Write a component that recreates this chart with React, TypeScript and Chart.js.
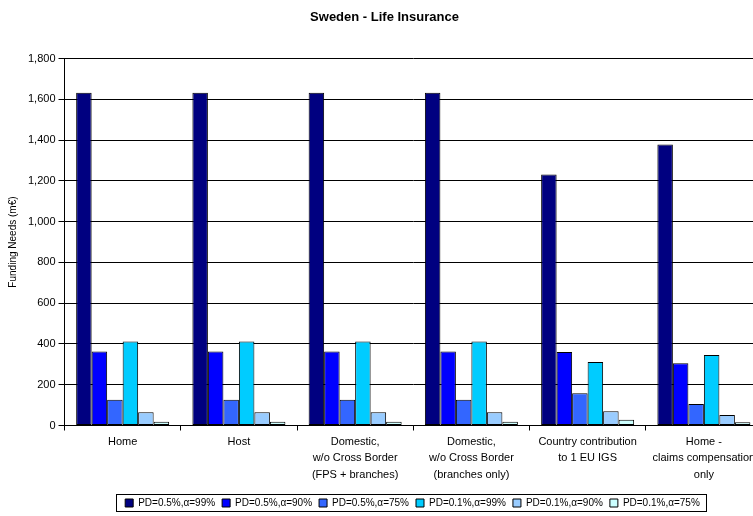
import React, { useEffect, useRef } from "react";
import { Chart, registerables } from "chart.js";

Chart.register(...registerables);

const TITLE = "Sweden - Life Insurance";
const Y_TITLE = "Funding Needs (m€)";
const CATEGORIES: string[][] = [
  ["Home"],
  ["Host"],
  ["Domestic,", "w/o Cross Border", "(FPS + branches)"],
  ["Domestic,", "w/o Cross Border", "(branches only)"],
  ["Country contribution", "to 1 EU IGS"],
  ["Home -", "claims compensation", "only"],
];
const SERIES_NAMES = [
  "PD=0.5%,α=99%",
  "PD=0.5%,α=90%",
  "PD=0.5%,α=75%",
  "PD=0.1%,α=99%",
  "PD=0.1%,α=90%",
  "PD=0.1%,α=75%",
];
const PD05_A99 = [1633, 1633, 1633, 1633, 1232, 1378];
const PD05_A90 = [363, 363, 363, 363, 361, 305];
const PD05_A75 = [126, 126, 126, 126, 158, 106];
const PD01_A99 = [412, 412, 412, 412, 312, 346];
const PD01_A90 = [65, 65, 65, 65, 70, 52];
const PD01_A75 = [19, 19, 19, 19, 28, 16];
const COLORS = ["#000080", "#0000FF", "#3366FF", "#00CCFF", "#99CCFF", "#CCFFFF"];
const Y_MAX = 1800;
const Y_STEP = 200;

const FONT = "'Liberation Sans', Arial, sans-serif";
const LEGEND_SHIFT_X = 28;
const LEGEND_SHIFT_Y = 5;

const legendPlugin = {
  id: "legendShiftBorder",
  beforeDraw(chart: any) {
    const lg = chart.legend;
    if (lg && !lg._shifted) {
      lg.left += LEGEND_SHIFT_X;
      lg.right += LEGEND_SHIFT_X;
      lg.top += LEGEND_SHIFT_Y;
      lg.bottom += LEGEND_SHIFT_Y;
      lg._shifted = true;
    }
  },
  afterDraw(chart: any) {
    const lg = chart.legend;
    if (!lg || !lg.lineWidths) return;
    const pad = lg.options.labels.padding;
    const lw = lg.lineWidths[0];
    const x0 = (lg.left + pad + lg.right - lw) / 2;
    const fs = lg.options.labels.font.size;
    const cy = lg.top + pad + fs / 2;
    const ctx = chart.ctx;
    ctx.save();
    ctx.strokeStyle = "#000";
    ctx.lineWidth = 1;
    const l = Math.round(x0 - 9) + 0.5;
    const r = Math.round(x0 + lw - pad + 6) + 0.5;
    const t = Math.round(cy - 9) + 0.5;
    const b = Math.round(cy + 8) + 0.5;
    ctx.strokeRect(l, t, r - l, b - t);
    ctx.restore();
  },
};

export default function App() {
  const ref = useRef<HTMLCanvasElement | null>(null);
  useEffect(() => {
    if (!ref.current) return;
    const values = [PD05_A99, PD05_A90, PD05_A75, PD01_A99, PD01_A90, PD01_A75];
    const chart = new Chart(ref.current, {
      type: "bar",
      data: {
        labels: CATEGORIES,
        datasets: values.map((v, i) => ({
          label: SERIES_NAMES[i],
          data: v,
          backgroundColor: COLORS[i],
          borderColor: "#000",
          borderWidth: 1,
          borderSkipped: false,
          categoryPercentage: 0.8,
          barPercentage: 1,
        })),
      },
      options: {
        responsive: false,
        animation: false,
        devicePixelRatio: 1,
        layout: { padding: { left: 7, right: 4, top: 0, bottom: 3 } },
        plugins: {
          title: {
            display: true,
            text: TITLE,
            color: "#000",
            font: { family: FONT, size: 13, weight: "bold" },
            padding: { top: 10, bottom: 33 },
          },
          legend: {
            display: true,
            position: "bottom",
            labels: {
              color: "#000",
              font: { family: FONT, size: 10 },
              boxWidth: 8,
              boxHeight: 8,
              padding: 7,
            },
          },
          tooltip: { enabled: false },
        },
        scales: {
          x: {
            grid: {
              offset: true,
              drawOnChartArea: false,
              drawTicks: true,
              tickLength: 5,
              color: "#000",
            },
            border: { display: true, color: "#000" },
            ticks: {
              color: "#000",
              font: { family: FONT, size: 11, lineHeight: 1.5 },
              maxRotation: 0,
              autoSkip: false,
              padding: 3,
            },
          },
          y: {
            min: 0,
            max: Y_MAX,
            grid: { color: "#000", tickLength: 6 },
            border: { display: true, color: "#000" },
            ticks: {
              stepSize: Y_STEP,
              color: "#000",
              font: { family: FONT, size: 11 },
              padding: 3,
              callback: (v: any) => Number(v).toLocaleString("en-US"),
            },
            title: {
              display: true,
              text: Y_TITLE,
              color: "#000",
              font: { family: FONT, size: 10 },
              padding: { top: 0, bottom: 6 },
            },
          },
        },
      },
      plugins: [legendPlugin],
    });
    return () => chart.destroy();
  }, []);
  return (
    <div
      style={{
        position: "fixed",
        left: 0,
        top: 0,
        width: 753,
        height: 516,
        overflow: "hidden",
        background: "#fff",
      }}
    >
      <canvas ref={ref} width={766} height={516} style={{ display: "block" }} />
    </div>
  );
}
